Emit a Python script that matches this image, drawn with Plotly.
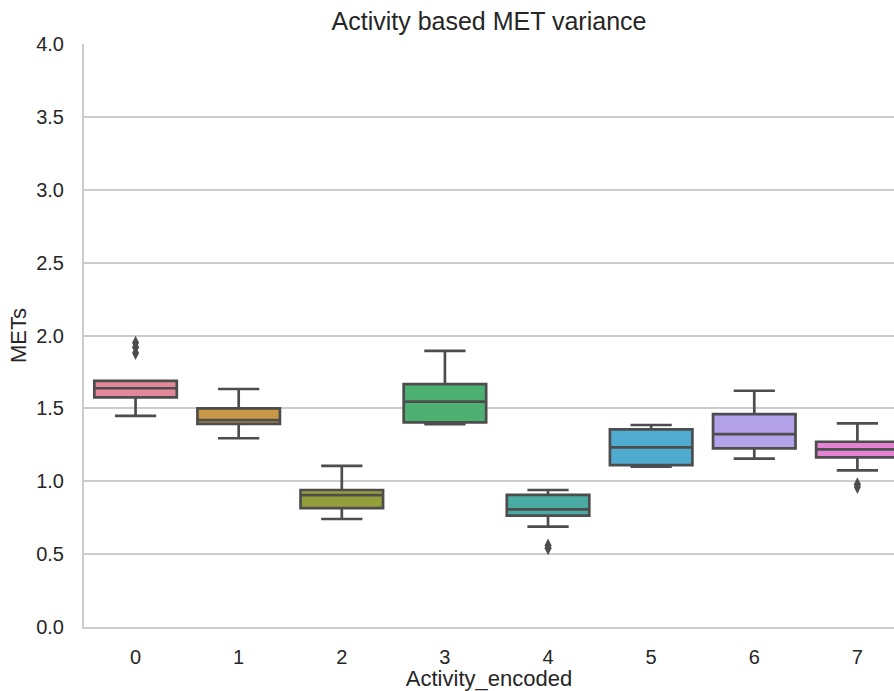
import plotly.graph_objects as go

# Per-activity MET distribution summaries
categories = [0, 1, 2, 3, 4, 5, 6, 7]
lower_whisker = [1.448, 1.295, 0.741, 1.391, 0.688, 1.100, 1.155, 1.075]
q1 = [1.575, 1.393, 0.815, 1.404, 0.764, 1.111, 1.226, 1.164]
median = [1.638, 1.420, 0.905, 1.546, 0.807, 1.233, 1.324, 1.219]
q3 = [1.688, 1.500, 0.940, 1.667, 0.906, 1.356, 1.461, 1.271]
upper_whisker = [1.688, 1.633, 1.105, 1.894, 0.940, 1.386, 1.621, 1.397]
outliers = {0: [1.95, 1.92, 1.88], 4: [0.56, 0.54], 7: [0.98, 0.96]}

colors = ["#e3879a", "#c99845", "#949f3c", "#4cb073",
          "#4aaba2", "#4fabd0", "#b3a1ea", "#e682d3"]
line_gray = "#4d4d4d"
text_gray = "#262626"
grid_gray = "#cccccc"
font_family = "Liberation Sans, Arial, sans-serif"

fig = go.Figure()
for i, cat in enumerate(categories):
    fig.add_trace(go.Box(
        x=[cat], q1=[q1[i]], median=[median[i]], q3=[q3[i]],
        lowerfence=[lower_whisker[i]], upperfence=[upper_whisker[i]],
        width=0.8, whiskerwidth=0.5, boxpoints=False,
        fillcolor=colors[i], line=dict(color=line_gray, width=2.7),
        showlegend=False, hoverinfo="skip",
    ))
    if cat in outliers:
        pts = outliers[cat]
        fig.add_trace(go.Scatter(
            x=[cat] * len(pts), y=pts, mode="markers",
            marker=dict(symbol="diamond-tall", size=10, color=line_gray),
            showlegend=False, hoverinfo="skip",
        ))

fig.update_layout(
    width=894, height=691,
    margin=dict(l=84, r=0, t=44, b=64),
    paper_bgcolor="white", plot_bgcolor="white",
    font=dict(family=font_family, color=text_gray, size=20),
    title=dict(text="Activity based MET variance", x=0.5, xref="paper",
               y=1, yref="container", yanchor="top", pad=dict(t=12),
               font=dict(size=25, color=text_gray)),
    xaxis=dict(
        range=[-0.5, 7.355], tickvals=categories,
        ticktext=[str(c) for c in categories],
        showgrid=False, zeroline=False,
        showline=True, linecolor=grid_gray, linewidth=2,
        ticks="", ticklabelstandoff=11,
        title=dict(text="Activity_encoded", standoff=4, font=dict(size=22)),
    ),
    yaxis=dict(
        range=[0, 4], tickvals=[0, 0.5, 1, 1.5, 2, 2.5, 3, 3.5, 4],
        ticktext=["0.0", "0.5", "1.0", "1.5", "2.0", "2.5", "3.0", "3.5", "4.0"],
        showgrid=True, gridcolor=grid_gray, gridwidth=1.5, zeroline=False,
        showline=True, linecolor=grid_gray, linewidth=2,
        ticks="", ticklabelstandoff=14,
        title=dict(text="METs", standoff=3, font=dict(size=22)),
    ),
)

fig.write_html("out.html")
